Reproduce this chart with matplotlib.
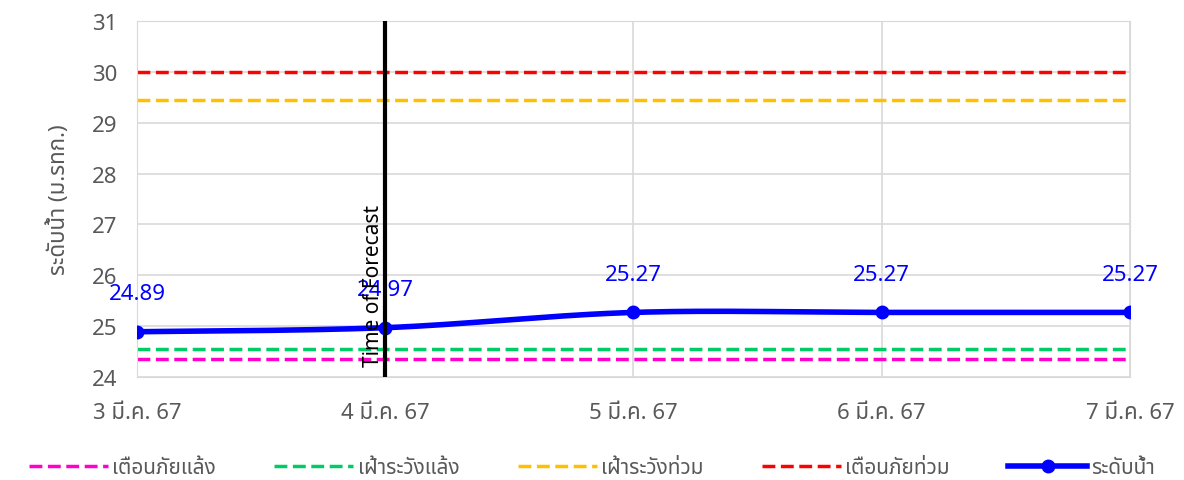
import numpy as np
import matplotlib.pyplot as plt
from matplotlib import font_manager

dates = ["3 มี.ค. 67", "4 มี.ค. 67", "5 มี.ค. 67", "6 มี.ค. 67", "7 มี.ค. 67"]
water_level = [24.89, 24.97, 25.27, 25.27, 25.27]
drought_warning = 24.35
drought_watch = 24.55
flood_watch = 29.45
flood_warning = 30.0
forecast_index = 1

names = {f.name for f in font_manager.fontManager.ttflist}
thai_fonts = [n for n in ["Noto Sans Thai", "Noto Sans Thai UI", "Noto Serif Thai",
                          "Loma", "Garuda", "Tahoma", "Leelawadee UI"] if n in names]
plt.rcParams["font.family"] = thai_fonts + ["DejaVu Sans"]


def smooth(x, y, n=40):
    # Excel style smoothed line (Bezier with Catmull-Rom control points)
    x = np.asarray(x, float)
    y = np.asarray(y, float)
    xs, ys = [], []
    for i in range(len(x) - 1):
        p0 = np.array([x[max(i - 1, 0)], y[max(i - 1, 0)]])
        p1 = np.array([x[i], y[i]])
        p2 = np.array([x[i + 1], y[i + 1]])
        p3 = np.array([x[min(i + 2, len(x) - 1)], y[min(i + 2, len(x) - 1)]])
        c1 = p1 + (p2 - p0) / 6
        c2 = p2 - (p3 - p1) / 6
        t = np.linspace(0, 1, n)[:, None]
        b = ((1 - t) ** 3) * p1 + 3 * ((1 - t) ** 2) * t * c1 + 3 * (1 - t) * t ** 2 * c2 + t ** 3 * p2
        xs.extend(b[:, 0])
        ys.extend(b[:, 1])
    return xs, ys


fig = plt.figure(figsize=(11.84, 4.81), dpi=100)
ax = fig.add_axes([0.1157, 0.2141, 0.8387, 0.7402])

x = np.arange(len(dates))
ax.plot(x, [drought_warning] * len(x), "--", color="#ff00cc", lw=2.5, label="เตือนภัยแล้ง")
ax.plot(x, [drought_watch] * len(x), "--", color="#00cc66", lw=2.5, label="เฝ้าระวังแล้ง")
ax.plot(x, [flood_watch] * len(x), "--", color="#ffc000", lw=2.5, label="เฝ้าระวังท่วม")
ax.plot(x, [flood_warning] * len(x), "--", color="#ff0000", lw=2.5, label="เตือนภัยท่วม")

sx, sy = smooth(x, water_level)
ax.plot(sx, sy, color="#0000ff", lw=4, zorder=5)
ax.plot(x, water_level, "o", color="#0000ff", ms=9, zorder=6)
ax.plot([], [], "-o", color="#0000ff", lw=4, ms=9, label="ระดับน้ำ")

for xi, v in zip(x, water_level):
    ax.annotate(f"{v:.2f}", (xi, v), xytext=(0, 20), textcoords="offset points",
                ha="center", va="bottom", color="#0000ff", fontsize=16, fontweight="medium")

ax.axvline(forecast_index, color="black", lw=3, zorder=7)
ax.text(forecast_index - 0.005, 24.22, "Time of Forecast", rotation=90, ha="right", va="bottom",
        fontsize=15, color="black", zorder=8)

ax.set_xlim(0, len(dates) - 1)
ax.set_ylim(24, 31)
ax.set_yticks(range(24, 32))
ax.set_xticks(x)
ax.set_xticklabels(dates)
ax.grid(True, color="#d9d9d9", lw=1.2)
ax.set_axisbelow(True)
for s in ax.spines.values():
    s.set_color("#d9d9d9")
ax.tick_params(length=0, labelsize=16, colors="#595959")
ax.tick_params(axis="y", pad=14)
ax.tick_params(axis="x", pad=18)
ax.set_ylabel("ระดับน้ำ (ม.รทก.)", fontsize=16, fontweight="bold", color="#595959", labelpad=16)

handles, labels = ax.get_legend_handles_labels()
fig.legend(handles, labels, loc="lower center", bbox_to_anchor=(0.5, -0.035), ncol=5, frameon=False,
           fontsize=15, handlelength=3.8, columnspacing=2.8, handletextpad=0.2, labelcolor="#595959")

fig.savefig("out.png", dpi=100)
